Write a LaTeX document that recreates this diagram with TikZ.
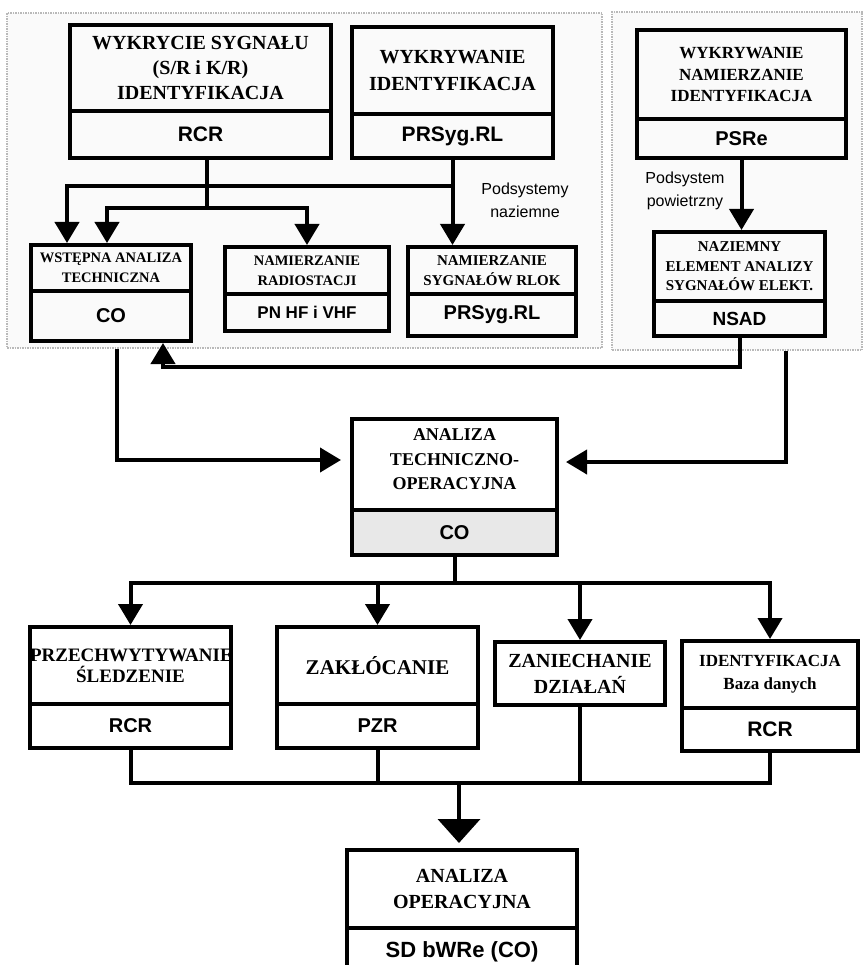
\documentclass[tikz,border=0pt]{standalone}
\usepackage{fontspec}
\setmainfont{Liberation Serif}
\setsansfont{Liberation Sans}
\usetikzlibrary{shapes.multipart,arrows.meta}

\newcommand{\headpart}[5]{\parbox[c][#2pt][c]{#1pt}{\centering\bfseries\fontsize{#3}{#4}\selectfont #5}}
\newcommand{\codepart}[4]{\parbox[c][#2pt][c]{#1pt}{\centering\sffamily\bfseries\fontsize{#3}{#3}\selectfont #4}}

\begin{document}
\begin{tikzpicture}[x=1pt,y=-1pt]
\tikzstyle{box}=[rectangle split, rectangle split parts=2, draw, line width=4pt, inner sep=0pt, anchor=north]
\tikzstyle{single}=[rectangle, draw, line width=4pt, inner sep=0pt, anchor=north]
\tikzstyle{zone}=[rectangle, draw=gray!55, fill=gray!4, line width=2.5pt, dash pattern=on 1.5pt off 1pt]
\tikzstyle{lbl}=[align=center, font=\sffamily\fontsize{16}{23}\selectfont]
\tikzstyle{link}=[line width=4pt]
\tikzstyle{arr}=[line width=4pt, -{Triangle[width=24pt,length=21pt]}]
\tikzstyle{bigarr}=[line width=4pt, -{Triangle[width=42pt,length=24pt]}]
\clip (0,0) rectangle (864,965);

% podsystemy
\node[zone, minimum width=595pt, minimum height=335pt] (ground) at (304.5,180.5) {};
\node[zone, minimum width=250pt, minimum height=338pt] (air) at (737,181) {};
\node[lbl] (nazlbl) at (525,200) {Podsystemy\\naziemne};
\node[lbl] (powlbl) at (685,191) {Podsystem\\powietrzny};

% gora
\node[box] (A) at (200.5,23) {\headpart{261}{82}{20}{25}{WYKRYCIE SYGNAŁU\\(S/R i K/R)\\IDENTYFIKACJA} \nodepart{two} \codepart{261}{43}{21}{RCR}};
\node[box] (B) at (452.5,25) {\headpart{201}{83}{20}{27}{WYKRYWANIE\\IDENTYFIKACJA} \nodepart{two} \codepart{201}{40}{21}{PRSyg.RL}};
\node[box] (C) at (741.5,28) {\headpart{209}{85}{17}{21.5}{WYKRYWANIE\\NAMIERZANIE\\IDENTYFIKACJA} \nodepart{two} \codepart{209}{35}{20}{PSRe}};
\node[box] (D) at (111,243) {\headpart{160}{42}{14.5}{20}{WSTĘPNA ANALIZA\\TECHNICZNA} \nodepart{two} \codepart{160}{46}{20}{CO}};
\node[box] (E) at (307,245) {\headpart{164}{43}{14.5}{20}{NAMIERZANIE\\RADIOSTACJI} \nodepart{two} \codepart{164}{33}{17}{PN HF i VHF}};
\node[box] (F) at (492,245) {\headpart{168}{43}{15}{20}{NAMIERZANIE\\SYGNAŁÓW RLOK} \nodepart{two} \codepart{168}{38}{20}{PRSyg.RL}};
\node[box] (G) at (739.5,230) {\headpart{171}{65}{15}{19.5}{NAZIEMNY\\ELEMENT ANALIZY\\SYGNAŁÓW ELEKT.} \nodepart{two} \codepart{171}{31}{19}{NSAD}};

% srodek
\node[box, rectangle split part fill={white,gray!18}] (H) at (454.5,417)
  {\headpart{205}{87}{18}{24.5}{ANALIZA\\TECHNICZNO-\\OPERACYJNA\par\vspace*{10pt}} \nodepart{two} \codepart{205}{41}{20}{CO}};

% dol
\node[box] (I) at (130.5,625) {\headpart{201}{73}{19}{21}{PRZECHWYTYWANIE\\ŚLEDZENIE} \nodepart{two} \codepart{201}{40}{20}{RCR}};
\node[box] (J) at (377.5,625) {\headpart{201}{73}{21}{25}{ZAKŁÓCANIE} \nodepart{two} \codepart{201}{40}{20}{PZR}};
\node[single] (K) at (580,640) {\headpart{170}{63}{20}{26}{ZANIECHANIE\\DZIAŁAŃ}};
\node[box] (L) at (770,639) {\headpart{176}{63}{17}{23}{IDENTYFIKACJA\\Baza danych} \nodepart{two} \codepart{176}{39}{21}{RCR}};
\node[box] (M) at (462,848) {\headpart{230}{74}{20}{26}{ANALIZA\\OPERACYJNA} \nodepart{two} \codepart{230}{44}{22}{SD bWRe (CO)}};

% polaczenia gora
\coordinate (h1) at (67,186);
\coordinate (h2) at (107,208);
\coordinate (jA) at (207,208);
\draw[link] (A.south -| jA) -- (jA);
\draw[arr] (B.south) -- (B.south |- F.north);
\draw[arr] (B.south |- h1) -- (h1) -- (h1 |- D.north);
\draw[arr] (jA) -- (h2) -- (h2 |- D.north);
\draw[arr] (jA) -- (jA -| E.north) -- (E.north);
\draw[arr] (C.south) -- (C.south |- G.north);

% polaczenia srodek
\coordinate (u1) at (163,367);
\coordinate (l1) at (117,460);
\coordinate (r1) at (786,462);
\draw[arr] (G.south) -- (G.south |- u1) -- (u1) -- (u1 |- D.south);
\draw[arr, shorten >=9pt] (ground.south -| l1) -- (l1) -- (l1 -| H.west);
\draw[arr, shorten >=7pt] (air.south -| r1) -- (r1) -- (r1 -| H.east);

% polaczenia dol
\coordinate (h3) at (454.5,583);
\coordinate (h4) at (459,783);
\draw[link] (H.south) -- (h3);
\draw[arr] (h3) -- (h3 -| I.north) -- (I.north);
\draw[arr] (h3) -- (h3 -| L.north) -- (L.north);
\draw[arr] (h3 -| J.north) -- (J.north);
\draw[arr] (h3 -| K.north) -- (K.north);
\draw[link] (I.south) -- (I.south |- h4) -- (L.south |- h4) -- (L.south);
\draw[link] (J.south) -- (J.south |- h4);
\draw[link] (K.south) -- (K.south |- h4);
\draw[bigarr, shorten >=5pt] (h4) -- (h4 |- M.north);
\end{tikzpicture}
\end{document}
